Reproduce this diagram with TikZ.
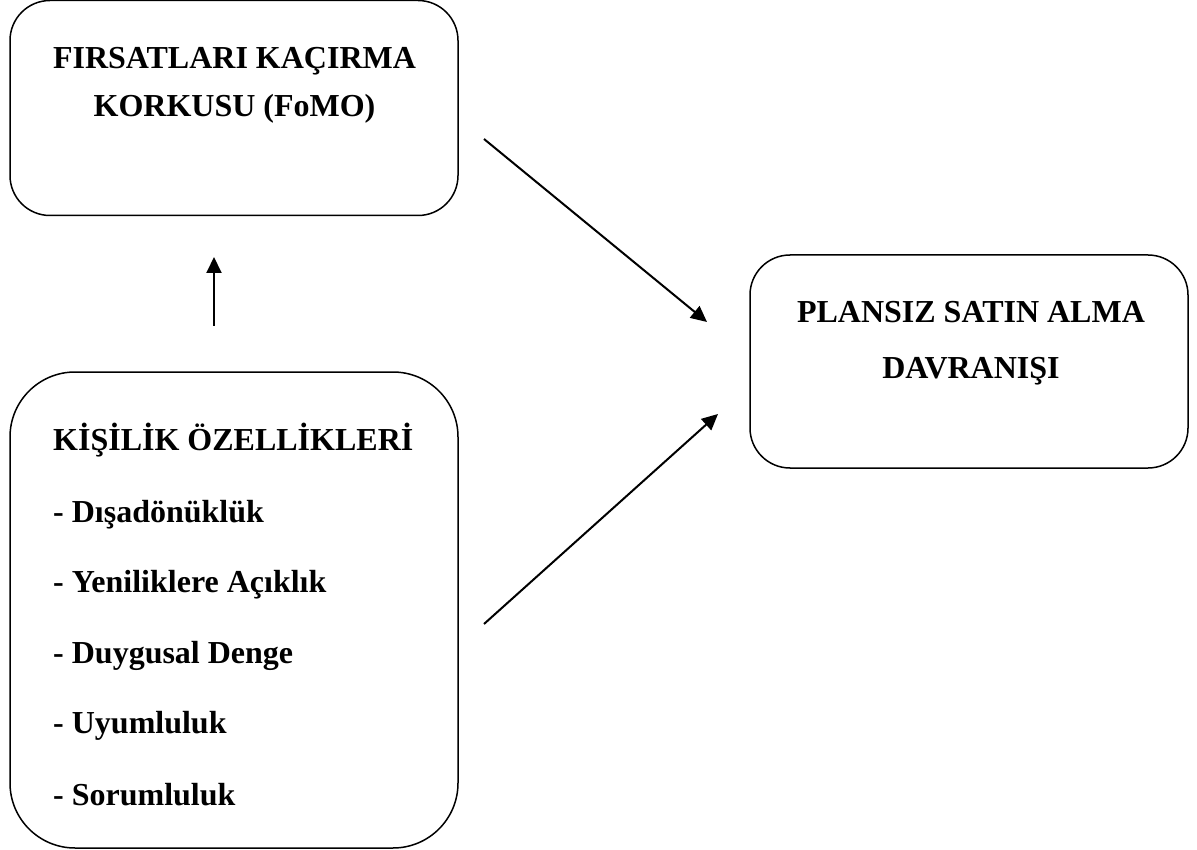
\documentclass[tikz,border=0pt]{standalone}
\usepackage{fontspec}
\setmainfont{Liberation Serif}
\usetikzlibrary{arrows.meta}
\begin{document}
\begin{tikzpicture}[x=1pt,y=-1pt,
  box/.style={draw, line width=1.5pt},
  lbl/.style={font=\fontsize{32}{38}\bfseries\selectfont, inner sep=0pt, anchor=base},
  lbll/.style={lbl, anchor=base west},
  arr/.style={-{Triangle[length=16pt,width=15pt]}, line width=2pt}]
\useasboundingbox (0,0) rectangle (1197,850);
% boxes
\node[box, rounded corners=40pt, minimum width=448pt, minimum height=215pt] (fomo) at (234,108) {};
\node[box, rounded corners=40pt, minimum width=438pt, minimum height=213pt] (plan) at (969,361.5) {};
\node[box, rounded corners=65pt, minimum width=448pt, minimum height=476pt] (kisi) at (234,610) {};
% texts
\node[lbl] (f1) at (234.5,69) {FIRSATLARI KAÇIRMA};
\node[lbl] (f2) at (234.5,117) {KORKUSU (FoMO)};
\node[lbl] (p1) at (971,323) {PLANSIZ SATIN ALMA};
\node[lbl] (p2) at (971,378) {DAVRANIŞI};
\node[lbll] (k0) at (53,450) {KİŞİLİK ÖZELLİKLERİ};
\node[lbll] (k1) at (53,522) {- Dışadönüklük};
\node[lbll] (k2) at (53,592) {- Yeniliklere Açıklık};
\node[lbll] (k3) at (53,663) {- Duygusal Denge};
\node[lbll] (k4) at (53,733) {- Uyumluluk};
\node[lbll] (k5) at (53,805) {- Sorumluluk};
% connector ends
\coordinate (upS) at (214,326);
\coordinate (upE) at (214,257);
\coordinate (d1S) at (484,139);
\coordinate (d1E) at (707,322);
\coordinate (d2S) at (484,624);
\coordinate (d2E) at (718,414);
\draw[arr] (upS) -- (upE);
\draw[arr] (d1S) -- (d1E);
\draw[arr] (d2S) -- (d2E);
\end{tikzpicture}
\end{document}
